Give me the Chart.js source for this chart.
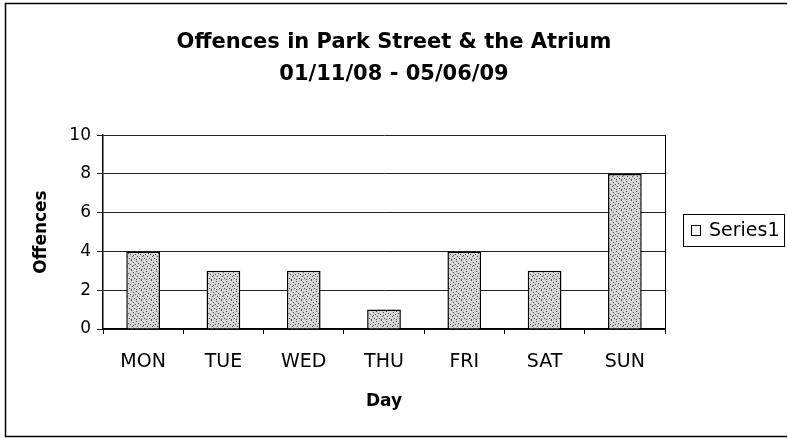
<!DOCTYPE html>
<html>
<head>
<meta charset="utf-8">
<script src="https://cdn.jsdelivr.net/npm/chart.js@4.4.1/dist/chart.umd.min.js"></script>
<style>
    html, body { margin: 0; padding: 0; background: #fff; }
    canvas { display: block; }
</style>
</head>
<body>
<canvas id="offenceChart" width="788" height="438"></canvas>
<script>

const days = ["MON", "TUE", "WED", "THU", "FRI", "SAT", "SUN"];
const offences = [4, 3, 3, 1, 4, 3, 8];
const seriesName = "Series1";
const yMin = 0;
const yMax = 10;
const yStep = 2;

const titleLines = ["Offences in Park Street & the Atrium", "01/11/08 - 05/06/09"];

// speckled grey fill, like the scanned bars
function makeSpeckle() {
    const c = document.createElement("canvas");
    c.width = 10;
    c.height = 10;
    const g = c.getContext("2d");
    g.fillStyle = "#d6d6d6";
    g.fillRect(0, 0, 10, 10);
    g.fillStyle = "#4a4a4a";
    const dots = [[1, 0], [6, 1], [3, 2], [8, 3], [0, 4], [5, 4], [2, 6],
                  [7, 6], [9, 8], [4, 8], [1, 9], [6, 9], [3, 5]];
    dots.forEach(d => g.fillRect(d[0], d[1], 1, 1));
    return document.getElementById("offenceChart").getContext("2d").createPattern(c, "repeat");
}

const speckle = makeSpeckle();

const frame = {
    id: "frame",
    afterDraw(chart) {
        const ctx = chart.ctx;
        ctx.save();
        ctx.strokeStyle = "#000";
        ctx.lineWidth = 1.5;
        ctx.beginPath();
        ctx.moveTo(787, 3.5);
        ctx.lineTo(5.5, 3.5);
        ctx.lineTo(5.5, 436.5);
        ctx.lineTo(787, 436.5);
        ctx.stroke();

        // legend box
        ctx.lineWidth = 1;
        ctx.strokeRect(683.5, 214.5, 101, 32);
        ctx.fillStyle = "#fff";
        ctx.fillRect(691.5, 225.5, 9, 10);
        ctx.strokeRect(691.5, 225.5, 9, 10);
        ctx.fillStyle = "#000";
        ctx.font = "19px 'DejaVu Sans'";
        ctx.textBaseline = "middle";
        ctx.textAlign = "left";
        ctx.fillText(chart.data.datasets[0].label, 709, 231);
        ctx.restore();
    }
};

new Chart(document.getElementById("offenceChart"), {

    type: "bar",

    data: {
        labels: days,
        datasets: [{
            label: seriesName,
            data: offences,
            backgroundColor: speckle,
            borderColor: "#000",
            borderWidth: 1.5,
            barPercentage: 0.42,
            categoryPercentage: 1
        }]
    },

    options: {
        responsive: false,
        animation: false,
        layout: {
            padding: 0
        },
        plugins: {
            legend: { display: false },
            tooltip: { enabled: false },
            title: {
                display: true,
                text: titleLines,
                color: "#000",
                font: { family: "'DejaVu Sans'", size: 21, weight: "bold", lineHeight: 1.55 },
                padding: { top: 26, bottom: 44 }
            }
        },
        scales: {
            x: {
                grid: {
                    drawOnChartArea: false,
                    color: "#000",
                    tickLength: 5,
                    offset: true
                },
                border: { color: "#000", width: 1.5 },
                ticks: {
                    color: "#000",
                    padding: 17,
                    font: { family: "'DejaVu Sans'", size: 19 }
                },
                title: {
                    display: true,
                    text: "Day",
                    color: "#000",
                    font: { family: "'DejaVu Sans'", size: 17, weight: "bold" },
                    padding: { top: 0, bottom: 26 }
                },
                afterFit(scale) {
                    scale.height = 109;
                }
            },
            y: {
                min: yMin,
                max: yMax,
                ticks: {
                    stepSize: yStep,
                    color: "#000",
                    padding: 6,
                    font: { family: "'DejaVu Sans'", size: 17 }
                },
                grid: {
                    color: "#222",
                    tickLength: 6
                },
                border: { color: "#000", width: 1.5 },
                title: {
                    display: true,
                    text: "Offences",
                    color: "#000",
                    font: { family: "'DejaVu Sans'", size: 17, weight: "bold" },
                    padding: { top: 31, bottom: 0 }
                },
                afterFit(scale) {
                    scale.width = 103;
                }
            },
            yRight: {
                type: "linear",
                position: "right",
                grid: { display: false },
                ticks: { display: false },
                border: { display: true, color: "#000", width: 1 },
                afterFit(scale) {
                    scale.width = 123;
                }
            }
        }
    },

    plugins: [frame]

});

</script>
</body>
</html>
